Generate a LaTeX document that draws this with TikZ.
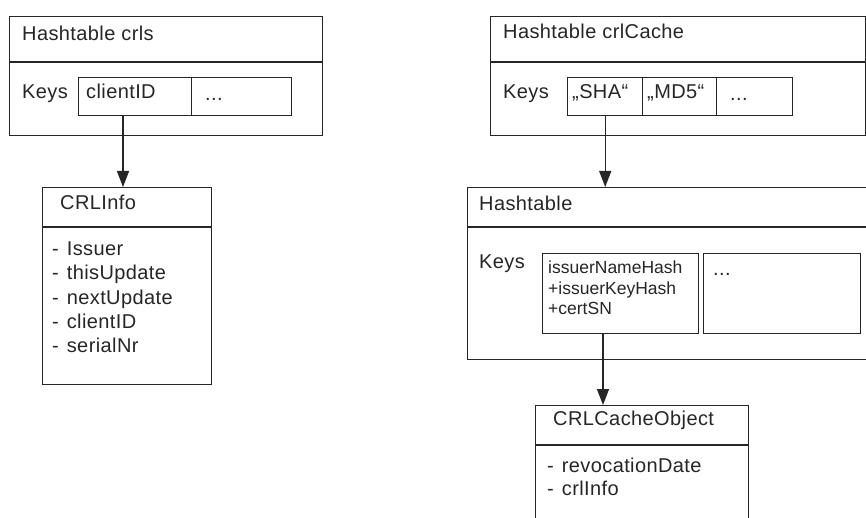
\documentclass[tikz,border=0pt]{standalone}
\usepackage{fontspec}
\setmainfont[LetterSpace=2]{Liberation Sans}
\newfontfamily\keyfont{Liberation Sans}
\usetikzlibrary{arrows.meta}
\begin{document}
\begin{tikzpicture}[x=1pt,y=1pt,
  box/.style={draw=black!85, line width=1.4pt, rectangle, inner sep=0pt, anchor=north west},
  divline/.style={draw=black!85, line width=1.4pt},
  lbl/.style={anchor=mid west, inner sep=0pt, text=black!85, font=\fontsize{20}{24}\selectfont},
  smalllbl/.style={lbl, font=\keyfont\fontsize{17.5}{21}\selectfont},
  link/.style={draw=black!85, line width=1.4pt, -{Triangle[width=12pt,length=16pt]}},
]
\clip (0,0) rectangle (866,-518);
\fill[white] (0,0) rectangle (866,-518);

% ---------- Hashtable crls ----------
\node[box, minimum width=313pt, minimum height=119pt] (crls) at (9,-16) {};
\draw[divline] ([yshift=-46pt]crls.north west) -- ([yshift=-46pt]crls.north east);
\node[lbl] (crlsT) at (22,-38) {Hashtable crls};
\node[lbl] (crlsK) at (22,-96) {Keys};
\node[box, minimum width=113pt, minimum height=38pt] (cellA) at (78,-77) {};
\node[box, minimum width=100pt, minimum height=38pt] (cellB) at (191,-77) {};
\node[lbl] (cellAT) at (86,-96) {clientID};
\node[lbl] (cellBT) at (205,-98) {...};

% ---------- CRLInfo ----------
\node[box, minimum width=169pt, minimum height=197pt] (info) at (42,-187) {};
\draw[divline] ([yshift=-40pt]info.north west) -- ([yshift=-40pt]info.north east);
\node[lbl] (infoT) at (60,-207) {CRLInfo};
\foreach \t [count=\i from 0] in {Issuer, thisUpdate, nextUpdate, clientID, serialNr}
  \node[lbl] (infoI\i) at (52,-253-24.2*\i) {-\hspace{8pt}\t};

% ---------- Hashtable crlCache ----------
\node[box, minimum width=375pt, minimum height=119pt] (cache) at (490,-16) {};
\draw[divline] ([yshift=-46pt]cache.north west) -- ([yshift=-46pt]cache.north east);
\node[lbl] (cacheT) at (503,-36) {Hashtable crlCache};
\node[lbl] (cacheK) at (503,-96) {Keys};
\node[box, minimum width=75pt, minimum height=38pt] (sha) at (567,-77) {};
\node[box, minimum width=74pt, minimum height=38pt] (md5) at (642,-77) {};
\node[box, minimum width=76pt, minimum height=38pt] (more) at (716,-77) {};
\node[lbl] (shaT) at (572,-96) {„SHA“};
\node[lbl] (md5T) at (647,-96) {„MD5“};
\node[lbl] (moreT) at (730,-98) {...};

% ---------- inner Hashtable ----------
\node[box, minimum width=420pt, minimum height=172pt] (ht) at (467,-187) {};
\draw[divline] ([yshift=-40pt]ht.north west) -- ([yshift=-40pt]ht.north east);
\node[lbl] (htT) at (479,-208) {Hashtable};
\node[lbl] (htK) at (479,-266) {Keys};
\node[box, minimum width=156pt, minimum height=80pt] (hk1) at (542,-253) {};
\node[box, minimum width=157pt, minimum height=80pt] (hk2) at (703,-253) {};
\node[smalllbl] (hk1a) at (548,-271) {issuerNameHash};
\node[smalllbl] (hk1b) at (548,-292) {+issuerKeyHash};
\node[smalllbl] (hk1c) at (548,-312) {+certSN};
\node[lbl] (hk2T) at (713,-273) {...};

% ---------- CRLCacheObject ----------
\node[box, minimum width=213pt, minimum height=140pt] (obj) at (535,-405) {};
\draw[divline] ([yshift=-40pt]obj.north west) -- ([yshift=-40pt]obj.north east);
\node[lbl] (objT) at (553,-423) {CRLCacheObject};
\node[lbl] (objI0) at (547,-470) {-\hspace{8pt}revocationDate};
\node[lbl] (objI1) at (547,-493) {-\hspace{8pt}crlInfo};

% ---------- connectors ----------
\coordinate (a1) at ([xshift=45pt]cellA.south west);
\draw[link] (a1) -- (a1 |- info.north);
\draw[link] (sha.south) -- (sha.south |- ht.north);
\coordinate (a3) at ([xshift=61pt]hk1.south west);
\draw[link] (a3) -- (a3 |- obj.north);
\end{tikzpicture}
\end{document}
